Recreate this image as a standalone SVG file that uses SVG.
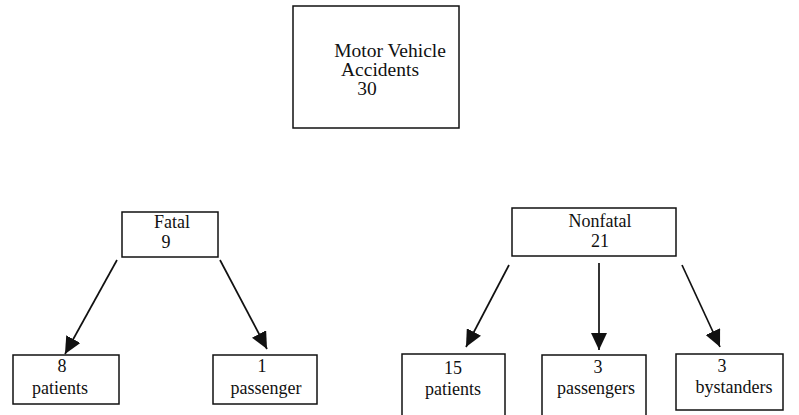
<svg xmlns="http://www.w3.org/2000/svg" width="799" height="415" viewBox="0 0 799 415">
<defs>
<style>
.box{fill:#fff;stroke:#111;stroke-width:1.5}
.t{font-family:'Liberation Serif','DejaVu Serif',serif;font-size:18px;fill:#111;text-anchor:middle}
.big{font-size:19.5px}
.c{stroke:#111;stroke-width:1.7;fill:none;marker-end:url(#ah)}
</style>
<marker id="ah" markerUnits="userSpaceOnUse" markerWidth="18" markerHeight="16" refX="17" refY="8" orient="auto">
<path d="M0,0 L17,8 L0,16 Z" fill="#111"/>
</marker>
</defs>
<rect width="799" height="415" fill="#fff"/>
<g id="connectors">
<line class="c" x1="117" y1="260" x2="65" y2="354"/>
<line class="c" x1="220" y1="260" x2="267" y2="349"/>
<line class="c" x1="509" y1="265" x2="466" y2="347"/>
<line class="c" x1="599" y1="263" x2="599" y2="350"/>
<line class="c" x1="682" y1="265" x2="720" y2="347"/>
</g>
<g id="root">
<rect class="box" x="293" y="6" width="166" height="122"/>
<text class="t big" x="390" y="57">Motor Vehicle</text>
<text class="t big" x="380" y="76">Accidents</text>
<text class="t big" x="367" y="95">30</text>
</g>
<g id="fatal">
<rect class="box" x="122" y="212" width="96" height="45"/>
<text class="t" x="172" y="228">Fatal</text>
<text class="t" x="166" y="248">9</text>
</g>
<g id="nonfatal">
<rect class="box" x="512" y="208" width="164" height="48"/>
<text class="t" x="600" y="227">Nonfatal</text>
<text class="t" x="600" y="247">21</text>
</g>
<g id="fatal-patients">
<rect class="box" x="13" y="355" width="106" height="49"/>
<text class="t" x="62" y="372">8</text>
<text class="t" x="60" y="394">patients</text>
</g>
<g id="fatal-passenger">
<rect class="box" x="213" y="355" width="104" height="49"/>
<text class="t" x="262" y="372">1</text>
<text class="t" x="266" y="394">passenger</text>
</g>
<g id="nonfatal-patients">
<rect class="box" x="402" y="354" width="103" height="70"/>
<text class="t" x="453" y="374">15</text>
<text class="t" x="453" y="395">patients</text>
</g>
<g id="nonfatal-passengers">
<rect class="box" x="542" y="355" width="104" height="70"/>
<text class="t" x="598" y="373">3</text>
<text class="t" x="596" y="394">passengers</text>
</g>
<g id="bystanders">
<rect class="box" x="676" y="354" width="107" height="56"/>
<text class="t" x="722" y="372">3</text>
<text class="t" x="734" y="393">bystanders</text>
</g>
</svg>
